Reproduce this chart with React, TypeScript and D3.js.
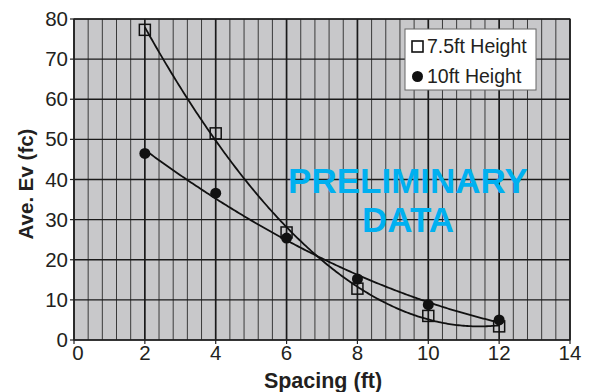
import React from "react";
import * as d3 from "d3";

const spacing = [2, 4, 6, 8, 10, 12];
const height75 = [77.3, 51.5, 26.8, 12.8, 6.0, 3.4];
const height10 = [46.5, 36.6, 25.4, 15.2, 8.8, 5.0];
const xTicks = [0, 2, 4, 6, 8, 10, 12, 14];
const yTicks = [0, 10, 20, 30, 40, 50, 60, 70, 80];
const seriesNames = ["7.5ft Height", "10ft Height"];

function quadFit(xs: number[], ys: number[]) {
  let s0 = 0, s1 = 0, s2 = 0, s3 = 0, s4 = 0, t0 = 0, t1 = 0, t2 = 0;
  xs.forEach((x, i) => {
    const y = ys[i];
    s0 += 1; s1 += x; s2 += x * x; s3 += x * x * x; s4 += x * x * x * x;
    t0 += y; t1 += x * y; t2 += x * x * y;
  });
  const M = [
    [s0, s1, s2, t0],
    [s1, s2, s3, t1],
    [s2, s3, s4, t2],
  ];
  for (let i = 0; i < 3; i++) {
    for (let j = i + 1; j < 3; j++) {
      const f = M[j][i] / M[i][i];
      for (let k = i; k < 4; k++) M[j][k] -= f * M[i][k];
    }
  }
  const c = M[2][3] / M[2][2];
  const b = (M[1][3] - M[1][2] * c) / M[1][1];
  const a = (M[0][3] - M[0][1] * b - M[0][2] * c) / M[0][0];
  return (x: number) => a + b * x + c * x * x;
}

export default function App() {
  const W = 589, H = 392;
  const L = 74, R = 570, T = 19, B = 340;
  const x = d3.scaleLinear().domain([0, 14]).range([L, R]);
  const y = d3.scaleLinear().domain([0, 80]).range([B, T]);

  const minor = d3.range(0, 14.0001, 0.4);
  const f75 = quadFit(spacing, height75);
  const f10 = quadFit(spacing, height10);
  const xs = d3.range(2, 12.0001, 0.05);
  const line = d3.line<number>().x((d) => x(d[0])).y((d) => y(d[1]));
  const p75 = line(xs.map((v) => [v, f75(v)]) as any);
  const p10 = line(xs.map((v) => [v, f10(v)]) as any);

  const font = "Liberation Sans, Arial, Helvetica, sans-serif";
  const sq = 11;

  return (
    <svg width={W} height={H} style={{ position: "absolute", left: 0, top: 0, background: "#fff" }} fontFamily={font}>
      <rect x={L} y={T} width={R - L} height={B - T} fill="#c8c8ca" />
      {minor.map((v, i) => {
        const major = Math.abs(v / 2 - Math.round(v / 2)) < 1e-6;
        return (
          <line key={"v" + i} x1={x(v)} x2={x(v)} y1={T} y2={B}
            stroke={major ? "#1a1a1a" : "#3a3a3a"} strokeWidth={major ? 1.7 : 1} />
        );
      })}
      {yTicks.map((v) => (
        <line key={"h" + v} x1={L} x2={R} y1={y(v)} y2={y(v)} stroke="#1a1a1a" strokeWidth={1.4} />
      ))}
      <rect x={L} y={T} width={R - L} height={B - T} fill="none" stroke="#222" strokeWidth={1.2} />
      {xTicks.map((v) => (
        <line key={"xt" + v} x1={x(v)} x2={x(v)} y1={B} y2={B + 4} stroke="#222" strokeWidth={1.2} />
      ))}
      {yTicks.map((v) => (
        <line key={"yt" + v} x1={L - 4} x2={L} y1={y(v)} y2={y(v)} stroke="#222" strokeWidth={1.2} />
      ))}
      {xTicks.map((v) => (
        <text key={"xl" + v} x={x(v) + (v === 0 ? 4 : 0)} y={360} fontSize={20.5} textAnchor="middle" fill="#231f20">{v}</text>
      ))}
      {yTicks.map((v) => (
        <text key={"yl" + v} x={68} y={y(v) + 7} fontSize={20.5} textAnchor="end" fill="#231f20">{v}</text>
      ))}

      <text x={408} y={193} fontSize={35} fontWeight="bold" textAnchor="middle" fill="#00b0f0">PRELIMINARY</text>
      <text x={408} y={232} fontSize={35} fontWeight="bold" textAnchor="middle" fill="#00b0f0">DATA</text>

      <path d={p75 || ""} fill="none" stroke="#111" strokeWidth={1.8} />
      <path d={p10 || ""} fill="none" stroke="#111" strokeWidth={1.8} />
      {spacing.map((s, i) => (
        <rect key={"s" + i} x={x(s) - sq / 2} y={y(height75[i]) - sq / 2} width={sq} height={sq}
          fill="none" stroke="#111" strokeWidth={1.5} />
      ))}
      {spacing.map((s, i) => (
        <circle key={"c" + i} cx={x(s)} cy={y(height10[i])} r={5.5} fill="#111" />
      ))}

      <rect x={405} y={29} width={131} height={61} fill="#fff" stroke="#666" strokeWidth={1} />
      <rect x={412} y={41} width={11} height={11} fill="none" stroke="#111" strokeWidth={1.6} />
      <text x={427} y={53} fontSize={19.5} fill="#231f20">{seriesNames[0]}</text>
      <circle cx={417.5} cy={76.5} r={5.5} fill="#111" />
      <text x={427} y={83} fontSize={19.5} fill="#231f20">{seriesNames[1]}</text>

      <text x={323} y={388} fontSize={21.5} fontWeight="bold" textAnchor="middle" fill="#231f20">Spacing (ft)</text>
      <text transform="translate(33,184) rotate(-90)" fontSize={20.5} fontWeight="bold" textAnchor="middle" fill="#231f20">Ave. Ev (fc)</text>
    </svg>
  );
}
